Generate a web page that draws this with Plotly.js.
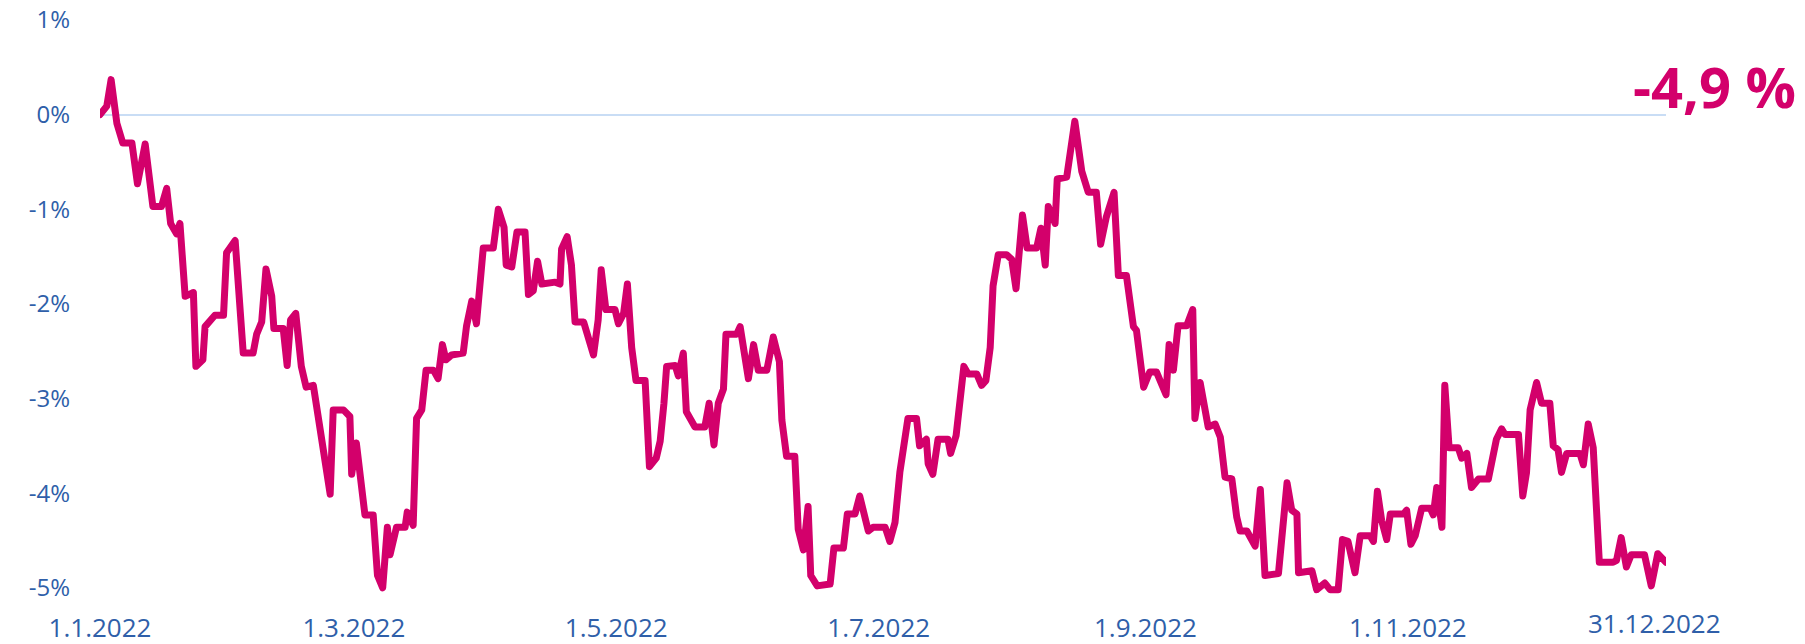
<!DOCTYPE html>
<html>
<head>
<meta charset="utf-8">
<script src="https://cdn.plot.ly/plotly-3.0.1.min.js"></script>
<style>
html,body{margin:0;padding:0;background:#fff;}
#chart{width:1805px;height:644px;}
.js-line{stroke-linejoin:round;stroke-linecap:round;}
</style>
</head>
<body>
<div id="chart"></div>
<script>
// Day offsets from 1.1.2022 and cumulative return (%)
const START_DATE = Date.UTC(2022, 0, 1);

const Q1_DAYS = [0,0.8,1.6,2.6,3.9,5.3,7.4,8.7,10.5,12.3,14.3,15.5,16.4,17.8,18.6,19.8,21.7,22.3,23.9,24.4,26.7,28.7,29.4,31.4,33.3,35.6,36.4,37.6,38.6,39.9,40.4,42.6,43.5,44.3,45.5,46.8,47.9,49.6,51.1,53.5,54.2,56.6,58.1,58.5,59.6,61.6,63.5,64.5,65.7,66.8,67.4,68.9,70.9,71.4,72.8,73.6,74.8,75.8,77.5,78.6,79.6,80.4,81.7,84.4,85.2,86.4,87.5,89.1];
const Q1_VALUES = [0.00,0.05,0.09,0.37,-0.09,-0.30,-0.30,-0.73,-0.31,-0.97,-0.97,-0.78,-1.15,-1.26,-1.15,-1.92,-1.88,-2.66,-2.59,-2.24,-2.12,-2.12,-1.46,-1.33,-2.52,-2.52,-2.32,-2.19,-1.63,-1.92,-2.26,-2.26,-2.65,-2.17,-2.10,-2.66,-2.88,-2.86,-3.27,-4.01,-3.12,-3.12,-3.19,-3.80,-3.47,-4.23,-4.23,-4.87,-5.00,-4.36,-4.65,-4.36,-4.36,-4.20,-4.34,-3.21,-3.12,-2.70,-2.70,-2.79,-2.43,-2.59,-2.54,-2.52,-2.23,-1.97,-2.21,-1.41];

const Q2_DAYS = [91.4,92.6,93.9,94.4,95.7,96.9,98.8,99.6,100.7,101.7,102.7,105.8,106.9,107.3,108.6,109.6,110.4,112.4,114.7,115.8,116.5,117.6,119.7,120.5,121.7,122.6,123.6,124.6,126.7,127.7,129.3,130.2,131.1,131.7,133.7,134.4,135.6,136.3,138.3,140.6,141.6,142.7,143.7,144.9,145.5,148.0,148.8,150.7,151.9,153.0,155.0,156.5,157.9,158.5,159.6,161.5,162.3,163.5,164.6,165.2,166.7,169.7,170.6,172.8,173.7,175.5,176.6,178.6,179.7];
const Q2_VALUES = [-1.41,-1.00,-1.19,-1.59,-1.61,-1.24,-1.24,-1.90,-1.86,-1.55,-1.79,-1.77,-1.79,-1.42,-1.29,-1.59,-2.19,-2.19,-2.54,-2.17,-1.64,-2.06,-2.06,-2.21,-2.10,-1.79,-2.46,-2.81,-2.81,-3.72,-3.63,-3.45,-3.05,-2.66,-2.65,-2.76,-2.52,-3.14,-3.30,-3.30,-3.05,-3.49,-3.05,-2.90,-2.32,-2.32,-2.24,-2.79,-2.43,-2.70,-2.70,-2.35,-2.61,-3.23,-3.61,-3.61,-4.38,-4.60,-4.14,-4.87,-4.98,-4.96,-4.58,-4.58,-4.22,-4.22,-4.03,-4.40,-4.36];

const Q3_DAYS = [182.5,183.6,184.8,185.9,187.1,187.8,189.8,190.5,192.1,192.5,193.6,194.8,197.1,197.7,199.0,199.9,200.8,201.8,203.8,204.9,205.9,206.9,207.6,208.8,210.7,211.9,212.9,214.4,215.5,217.7,218.7,219.7,220.4,222.0,222.5,224.7,226.6,228.2,229.7,231.6,232.6,233.9,235.7,236.7,238.6,240.2,240.9,242.6,244.0,245.6,246.7,247.8,248.5,249.5,250.6,252.6,254.0,254.5,255.7,257.6,259.2,260.4,261.5,263.1,264.2,265.0,266.6,268.5,269.7,270.8];
const Q3_VALUES = [-4.36,-4.51,-4.31,-3.78,-3.38,-3.21,-3.21,-3.50,-3.43,-3.69,-3.80,-3.43,-3.43,-3.58,-3.39,-2.92,-2.66,-2.74,-2.74,-2.86,-2.81,-2.46,-1.81,-1.48,-1.48,-1.53,-1.84,-1.06,-1.41,-1.41,-1.20,-1.59,-0.97,-1.15,-0.68,-0.66,-0.07,-0.60,-0.82,-0.82,-1.37,-1.08,-0.82,-1.70,-1.70,-2.24,-2.28,-2.88,-2.72,-2.72,-2.83,-2.96,-2.43,-2.70,-2.23,-2.23,-2.06,-3.21,-2.83,-3.30,-3.27,-3.41,-3.83,-3.85,-4.25,-4.40,-4.40,-4.56,-3.96,-4.87];

const Q4_DAYS = [273.9,275.9,277.0,278.2,278.6,281.7,282.8,284.7,285.9,287.8,288.8,290.1,291.7,292.9,295.2,296.0,296.9,297.9,299.1,299.9,303.0,303.7,304.7,305.7,307.2,309.2,309.9,310.7,311.9,312.6,313.6,315.7,316.5,317.7,318.8,320.4,322.7,324.6,325.8,326.6,329.7,330.7,331.6,332.4,333.9,335.1,337.0,337.8,338.9,339.7,340.9,344.0,344.8,345.9,347.1,348.5,351.7,352.5,353.6,354.8,355.9,359.0,360.6,362.1,364.0];
const Q4_VALUES = [-4.85,-3.89,-4.18,-4.22,-4.84,-4.82,-5.02,-4.95,-5.02,-5.02,-4.49,-4.51,-4.84,-4.45,-4.45,-4.51,-3.98,-4.29,-4.49,-4.22,-4.22,-4.18,-4.54,-4.45,-4.16,-4.16,-4.23,-3.94,-4.36,-2.86,-3.52,-3.52,-3.63,-3.58,-3.94,-3.85,-3.85,-3.43,-3.32,-3.38,-3.38,-4.03,-3.78,-3.12,-2.83,-3.05,-3.05,-3.50,-3.54,-3.78,-3.58,-3.58,-3.70,-3.27,-3.52,-4.73,-4.73,-4.71,-4.47,-4.78,-4.65,-4.65,-4.98,-4.64,-4.73];

const TICK_DATES = ['2022-01-01','2022-03-01','2022-05-01','2022-07-01','2022-09-01','2022-11-01'];
const TICK_LABELS = ['1.1.2022','1.3.2022','1.5.2022','1.7.2022','1.9.2022','1.11.2022'];
const END_DATE = '2022-12-31';
const END_LABEL = '31.12.2022';
const Y_TICKS = [1,0,-1,-2,-3,-4,-5];
const Y_LABELS = ['1%','0%','-1%','-2%','-3%','-4%','-5%'];
const RESULT_LABEL = '-4,9 %';

const DAYS = [].concat(Q1_DAYS, Q2_DAYS, Q3_DAYS, Q4_DAYS);
const VALUES = [].concat(Q1_VALUES, Q2_VALUES, Q3_VALUES, Q4_VALUES);

function toDate(d){
  const t = new Date(START_DATE + Math.round(d*24)*3600000);
  return t.toISOString().slice(0,13).replace('T',' ') + ':00';
}

const MAGENTA = '#d3006b';
const BLUE = '#2f5fa9';

const trace = {
  x: DAYS.map(toDate),
  y: VALUES,
  type: 'scatter',
  mode: 'lines',
  line: {color: MAGENTA, width: 7},
  hoverinfo: 'skip'
};

const layout = {
  width: 1805, height: 644,
  margin: {l: 100, r: 139, t: 20, b: 42},
  paper_bgcolor: '#fff', plot_bgcolor: '#fff',
  showlegend: false,
  xaxis: {
    type: 'date',
    range: ['2022-01-01', END_DATE],
    tickmode: 'array', tickvals: TICK_DATES, ticktext: TICK_LABELS,
    showgrid: false, zeroline: false, showline: false, ticks: '',
    tickfont: {family: 'Open Sans', size: 26, color: BLUE},
    ticklabelstandoff: 8
  },
  yaxis: {
    range: [-5.15, 1.0],
    tickmode: 'array', tickvals: Y_TICKS, ticktext: Y_LABELS,
    showgrid: false, showline: false, ticks: '',
    zeroline: true, zerolinecolor: '#c9ddf5', zerolinewidth: 2,
    tickfont: {family: 'Open Sans', size: 24, color: BLUE},
    ticklabelstandoff: 29
  },
  annotations: [
    {
      xref: 'x', x: END_DATE, xanchor: 'center', xshift: -12,
      yref: 'paper', y: 0, yanchor: 'top', yshift: -1,
      text: END_LABEL, showarrow: false,
      font: {family: 'Open Sans', size: 26, color: BLUE}
    },
    {
      xref: 'paper', x: 1, xanchor: 'right', xshift: 132,
      yref: 'y', y: 0.3, yanchor: 'middle',
      text: '<b>' + RESULT_LABEL + '</b>', showarrow: false,
      font: {family: 'Open Sans', size: 56, color: MAGENTA}
    }
  ]
};

Plotly.newPlot('chart', [trace], layout, {staticPlot: true, displayModeBar: false});
</script>
</body>
</html>
